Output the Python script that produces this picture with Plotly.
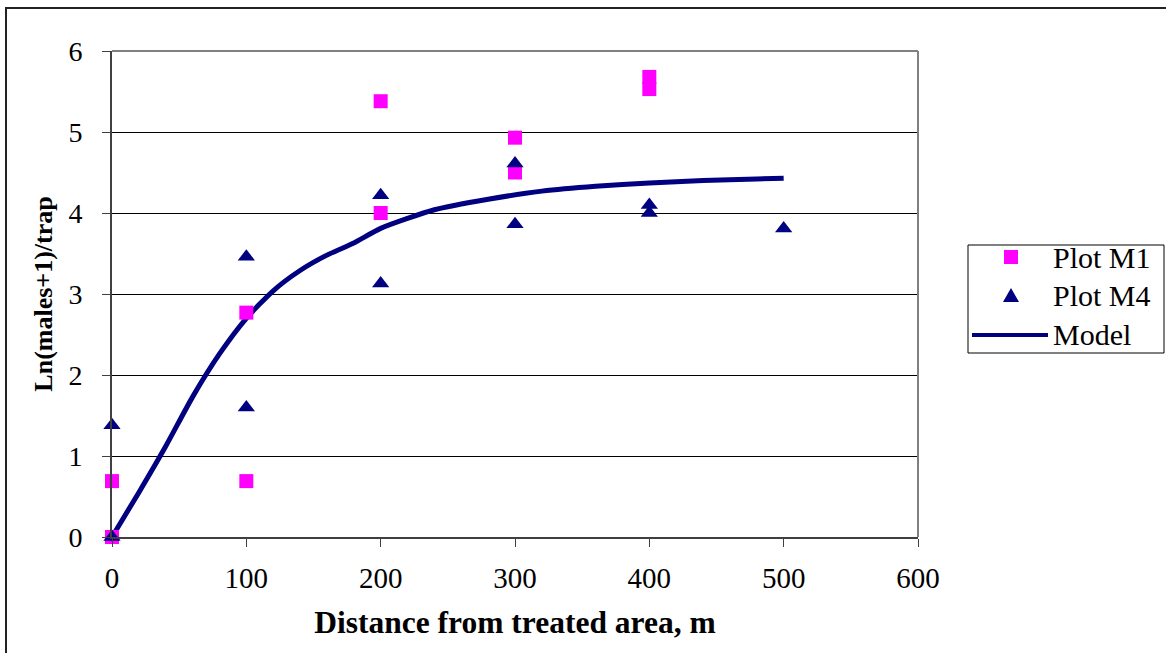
import plotly.graph_objects as go

# Plot M1 (magenta squares)
m1_x = [0, 0, 100, 100, 200, 200, 300, 300, 400, 400]
m1_y = [0.0, 0.69, 0.69, 2.77, 4.0, 5.38, 4.5, 4.93, 5.53, 5.68]

# Plot M4 (navy triangles)
m4_x = [0, 0, 100, 100, 200, 200, 300, 300, 400, 400, 500]
m4_y = [0.0, 1.38, 1.6, 3.46, 3.13, 4.22, 3.86, 4.61, 4.0, 4.1, 3.81]

# Model curve
model_x = [0, 20, 40, 60, 80, 100, 120, 140, 160, 180, 200, 240, 280, 320, 360, 400, 440, 480, 500]
model_y = [0.0, 0.55, 1.12, 1.73, 2.26, 2.70, 3.04, 3.29, 3.48, 3.63, 3.81, 4.04, 4.17, 4.27, 4.33, 4.37, 4.40, 4.42, 4.43]

x_ticks = [0, 100, 200, 300, 400, 500, 600]
y_ticks = [0, 1, 2, 3, 4, 5, 6]
legend_names = ["Plot M1", "Plot M4", "Model"]

SERIF = "Liberation Serif"
NAVY = "#000080"
MAGENTA = "#FF00FF"

# plot-area geometry in pixels (for the hand-drawn legend box)
L, R, T, B = 112, 918, 51, 537
def px(x):
    return (x - L) / (R - L)
def py(y):
    return (B - y) / (B - T)

fig = go.Figure()
fig.add_trace(go.Scatter(x=model_x, y=model_y, mode="lines", name="Model",
                         line=dict(color=NAVY, width=5, shape="spline", smoothing=0.6),
                         cliponaxis=False))
fig.add_trace(go.Scatter(x=m1_x, y=m1_y, mode="markers", name="Plot M1",
                         marker=dict(symbol="square", size=14, color=MAGENTA),
                         cliponaxis=False))
fig.add_trace(go.Scatter(x=m4_x, y=m4_y, mode="markers", name="Plot M4",
                         marker=dict(symbol="triangle-up", size=15, color=NAVY),
                         cliponaxis=False))

# legend (drawn by hand to match the box geometry)
shapes = [
    dict(type="line", xref="paper", yref="paper", x0=0, x1=1, y0=1, y1=1,
         line=dict(color="#808080", width=2), layer="above"),
    dict(type="line", xref="paper", yref="paper", x0=1, x1=1, y0=0, y1=1,
         line=dict(color="#808080", width=2), layer="above"),
    dict(type="rect", xref="paper", yref="paper", x0=px(6), x1=px(1400), y0=py(800), y1=py(8),
         line=dict(color="#222222", width=2), layer="below"),
    dict(type="rect", xref="paper", yref="paper", x0=px(968), x1=px(1164), y0=py(353), y1=py(245),
         line=dict(color="black", width=1), fillcolor="white", layer="above"),
    dict(type="rect", xref="paper", yref="paper", x0=px(1004), x1=px(1018), y0=py(264), y1=py(250),
         line=dict(width=0), fillcolor=MAGENTA, layer="above"),
    dict(type="path", xref="paper", yref="paper", layer="above",
         path=f"M {px(1003)} {py(302)} L {px(1019)} {py(302)} L {px(1011)} {py(288)} Z",
         line=dict(width=0), fillcolor=NAVY),
    dict(type="line", xref="paper", yref="paper", x0=px(972), x1=px(1048), y0=py(335), y1=py(335),
         line=dict(color=NAVY, width=4), layer="above"),
]
annotations = []
for name, yc in zip(legend_names, [257, 295, 334]):
    annotations.append(dict(text=name, xref="paper", yref="paper", x=px(1051), y=py(yc),
                            xanchor="left", yanchor="middle", showarrow=False,
                            font=dict(family=SERIF, size=30, color="black")))

fig.update_layout(
    width=1166, height=653,
    margin=dict(l=L, r=1166 - R, t=T, b=653 - B),
    paper_bgcolor="white", plot_bgcolor="white",
    font=dict(family=SERIF, size=29, color="black"),
    showlegend=False,
    xaxis=dict(range=[0, 600], tickvals=x_ticks, ticktext=[str(v) for v in x_ticks],
               showgrid=False, zeroline=False, showline=True, linecolor="#404040", linewidth=2,
               ticks="outside", ticklen=8, tickcolor="#404040", ticklabelstandoff=6,
               tickfont=dict(family=SERIF, size=29),
               title=dict(text="<b>Distance from treated area, m</b>", standoff=18,
                          font=dict(family=SERIF, size=31.5))),
    yaxis=dict(range=[0, 6], tickvals=y_ticks, ticktext=[str(v) for v in y_ticks],
               showgrid=True, gridcolor="black", gridwidth=1, zeroline=False,
               showline=True, linecolor="#404040", linewidth=2,
               ticks="outside", ticklen=8, tickcolor="#404040", ticklabelstandoff=14,
               tickfont=dict(family=SERIF, size=28),
               title=dict(text="<b>Ln(males+1)/trap</b>", standoff=8,
                          font=dict(family=SERIF, size=26))),
    shapes=shapes,
    annotations=annotations,
)

fig.write_html("out.html")
